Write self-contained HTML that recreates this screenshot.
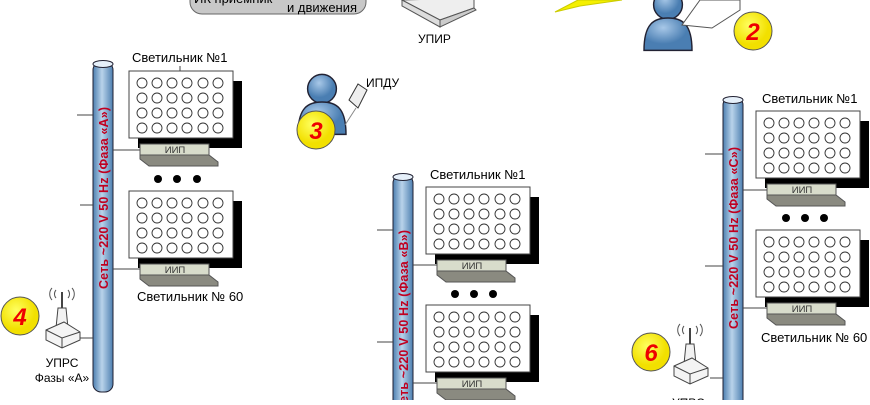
<!DOCTYPE html>
<html><head><meta charset="utf-8"><style>
body{margin:0;background:#fff;width:870px;height:400px;overflow:hidden}
text{font-family:"Liberation Sans",sans-serif}
</style></head><body>
<svg width="870" height="400" xmlns="http://www.w3.org/2000/svg">
<defs>
<linearGradient id="pg" x1="0" x2="1"><stop offset="0" stop-color="#4d7fb0"/><stop offset=".45" stop-color="#b9d3ea"/><stop offset="1" stop-color="#4d7fb0"/></linearGradient>
<radialGradient id="yg" cx=".4" cy=".35"><stop offset="0" stop-color="#ffff60"/><stop offset="1" stop-color="#f2e000"/></radialGradient>
<radialGradient id="bg" cx=".4" cy=".3"><stop offset="0" stop-color="#a8c8e8"/><stop offset="1" stop-color="#4a7eb2"/></radialGradient>
<g id="lum">
<rect x="9" y="10" width="104" height="67" fill="#000"/>
<rect x="0" y="0" width="104" height="67" fill="#fff" stroke="#444"/>
<g fill="none" stroke="#333" stroke-width="0.9">
<circle cx="13" cy="12" r="5"/><circle cx="28" cy="12" r="5"/><circle cx="43" cy="12" r="5"/><circle cx="58" cy="12" r="5"/><circle cx="74" cy="12" r="5"/><circle cx="89" cy="12" r="5"/>
<circle cx="13" cy="27" r="5"/><circle cx="28" cy="27" r="5"/><circle cx="43" cy="27" r="5"/><circle cx="58" cy="27" r="5"/><circle cx="74" cy="27" r="5"/><circle cx="89" cy="27" r="5"/>
<circle cx="13" cy="42" r="5"/><circle cx="28" cy="42" r="5"/><circle cx="43" cy="42" r="5"/><circle cx="58" cy="42" r="5"/><circle cx="74" cy="42" r="5"/><circle cx="89" cy="42" r="5"/>
<circle cx="13" cy="57" r="5"/><circle cx="28" cy="57" r="5"/><circle cx="43" cy="57" r="5"/><circle cx="58" cy="57" r="5"/><circle cx="74" cy="57" r="5"/><circle cx="89" cy="57" r="5"/>
</g>
<polygon points="11,84 80,84 89,91 89,95 20,95 11,88" fill="#8a8a80" stroke="#555"/>
<rect x="11" y="73" width="69" height="11" fill="#d8dccb" stroke="#555"/>
<text x="46" y="82" font-size="9.5" text-anchor="middle" fill="#333">ИИП</text>
</g>
<g id="router">
<path d="M12,0 a6,6 0 0 0 0,8 M8,-2 a9,9 0 0 0 0,12 M24,0 a6,6 0 0 1 0,8 M28,-2 a9,9 0 0 1 0,12" fill="none" stroke="#555"/>
<line x1="18" y1="2" x2="18" y2="18" stroke="#444" stroke-width="2"/>
<path d="M14,18 L22,18 L24,38 L12,38Z" fill="#f2f2f2" stroke="#444"/>
<path d="M2,40 L20,32 L36,42 L36,50 L18,58 L2,50Z" fill="#f4f4f4" stroke="#444"/>
<path d="M2,40 L18,48 L36,42 M18,48 L18,58" fill="none" stroke="#444"/>
</g>
<g id="person">
<circle cx="20" cy="14" r="12" fill="url(#bg)" stroke="#223" stroke-width="1.2"/>
<path d="M0,52 C0,30 8,25 20,25 C32,25 40,30 40,52Z" fill="url(#bg)" stroke="#223" stroke-width="1.2"/>
</g>
</defs>

<rect x="190" y="-18" width="176" height="32" rx="12" fill="#c8c8c8" stroke="#666"/>
<text x="194" y="3" font-size="13">ИК приемник</text>
<text x="287" y="12" font-size="13">и движения</text>
<path d="M402,0 L440,20 L474,8 L474,-2Z" fill="#eee" stroke="#555"/>
<path d="M440,20 L440,27 L476,10 L474,8Z" fill="#ccc" stroke="#555"/>
<path d="M402,0 L440,20 L440,27 L402,6Z" fill="#ddd" stroke="#555"/>
<text x="418" y="43" font-size="12">УПИР</text>
<path d="M555,12 L578,0 L622,0 L580,6Z" fill="#f5f000" stroke="#cc0"/>
<use href="#person" transform="translate(644,-12) scale(1.2)"/>
<path d="M682,25 L712,28 L740,10 L740,0 L700,0Z" fill="#fff" stroke="#555"/>
<circle cx="753" cy="31" r="19" fill="url(#yg)" stroke="#555"/>
<text x="753" y="40" font-size="24" font-weight="bold" font-style="italic" fill="#e00" text-anchor="middle">2</text>

<rect x="93" y="62" width="20" height="330" rx="8" fill="url(#pg)" stroke="#223"/>
<ellipse cx="103" cy="64" rx="10" ry="3.5" fill="#e6f0fa" stroke="#223"/>
<text transform="translate(108,289) rotate(-90)" font-size="12.5" font-weight="bold" fill="#c00020" textLength="182">Сеть ~220 V 50 Hz (Фаза «А»)</text>
<g stroke="#444">
<line x1="77" y1="115" x2="93" y2="115"/><line x1="80" y1="205" x2="93" y2="205"/>
<line x1="113" y1="150" x2="140" y2="150"/><line x1="113" y1="269" x2="140" y2="269"/>
<line x1="80" y1="338" x2="93" y2="338"/><line x1="180" y1="66" x2="180" y2="71"/>
</g>
<text x="132" y="62" font-size="13">Светильник №1</text>
<use href="#lum" x="129" y="71"/>
<circle cx="158" cy="179" r="4"/><circle cx="177" cy="179" r="4"/><circle cx="197" cy="179" r="4"/>
<use href="#lum" x="129" y="191"/>
<text x="137" y="301" font-size="13">Светильник № 60</text>
<use href="#router" x="44" y="290"/>
<circle cx="20" cy="316" r="19" fill="url(#yg)" stroke="#555"/>
<text x="20" y="325" font-size="24" font-weight="bold" font-style="italic" fill="#e00" text-anchor="middle">4</text>
<text x="62" y="367" font-size="12" text-anchor="middle">УПРС</text>
<text x="62" y="382" font-size="12" text-anchor="middle">Фазы «А»</text>

<use href="#person" transform="translate(298,72) scale(1.2)"/>
<path d="M349,100 L358,84 L367,90 L358,108Z" fill="#eee" stroke="#333"/>
<line x1="345" y1="125" x2="356" y2="108" stroke="#888"/>
<text x="366" y="87" font-size="12">ИПДУ</text>
<circle cx="316" cy="130" r="19" fill="url(#yg)" stroke="#555"/>
<text x="316" y="139" font-size="24" font-weight="bold" font-style="italic" fill="#e00" text-anchor="middle">3</text>

<rect x="393" y="175" width="20" height="240" rx="8" fill="url(#pg)" stroke="#223"/>
<ellipse cx="403" cy="177" rx="10" ry="3.5" fill="#e6f0fa" stroke="#223"/>
<text transform="translate(408,412) rotate(-90)" font-size="12.5" font-weight="bold" fill="#c00020" textLength="182">Сеть ~220 V 50 Hz (Фаза «В»)</text>
<g stroke="#444">
<line x1="377" y1="230" x2="393" y2="230"/><line x1="377" y1="342" x2="393" y2="342"/>
<line x1="413" y1="265" x2="440" y2="265"/><line x1="413" y1="383" x2="440" y2="383"/>
</g>
<text x="430" y="179" font-size="13">Светильник №1</text>
<use href="#lum" x="426" y="187"/>
<circle cx="455" cy="294" r="4"/><circle cx="474" cy="294" r="4"/><circle cx="493" cy="294" r="4"/>
<use href="#lum" x="426" y="305"/>

<rect x="723" y="97" width="20" height="320" rx="8" fill="url(#pg)" stroke="#223"/>
<ellipse cx="733" cy="100" rx="10" ry="3.5" fill="#e6f0fa" stroke="#223"/>
<text transform="translate(738,329) rotate(-90)" font-size="12.5" font-weight="bold" fill="#c00020" textLength="182">Сеть ~220 V 50 Hz (Фаза «С»)</text>
<g stroke="#444">
<line x1="705" y1="154" x2="723" y2="154"/><line x1="705" y1="266" x2="723" y2="266"/>
<line x1="743" y1="190" x2="770" y2="190"/><line x1="743" y1="308" x2="770" y2="308"/>
<line x1="710" y1="378" x2="723" y2="378"/>
</g>
<text x="762" y="103" font-size="13">Светильник №1</text>
<use href="#lum" x="756" y="111"/>
<circle cx="786" cy="218" r="4"/><circle cx="805" cy="218" r="4"/><circle cx="824" cy="218" r="4"/>
<use href="#lum" x="756" y="230"/>
<text x="761" y="342" font-size="13">Светильник № 60</text>
<use href="#router" x="672" y="326"/>
<circle cx="651" cy="352" r="19" fill="url(#yg)" stroke="#555"/>
<text x="651" y="361" font-size="24" font-weight="bold" font-style="italic" fill="#e00" text-anchor="middle">6</text>
<text x="672" y="407" font-size="12">УПРС</text>
</svg>
</body></html>
